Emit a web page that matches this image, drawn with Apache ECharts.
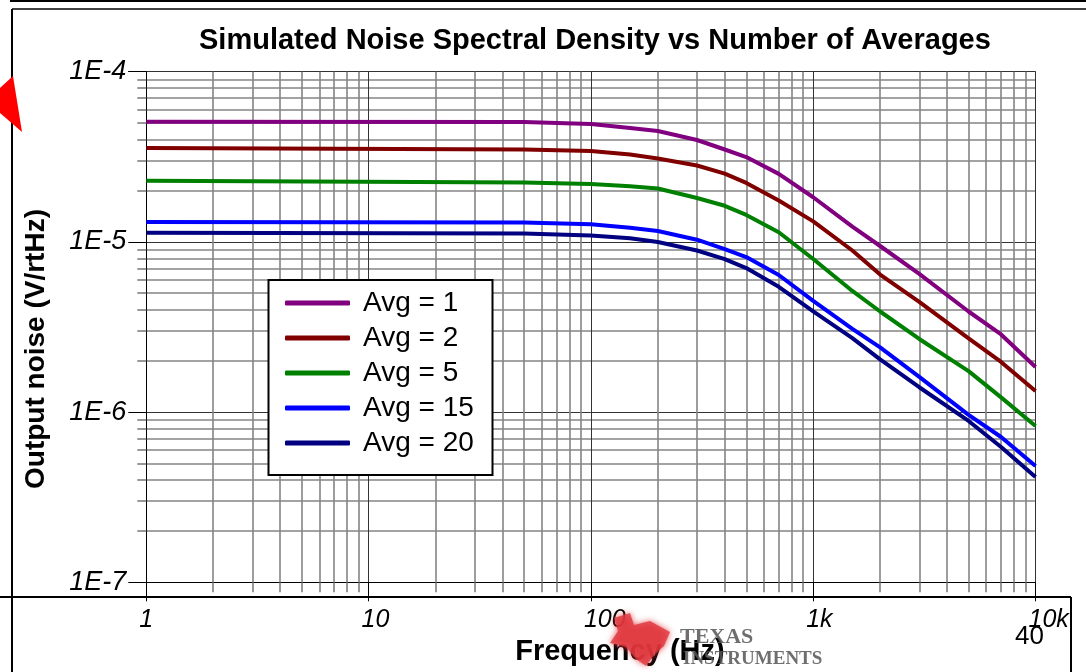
<!DOCTYPE html>
<html>
<head>
<meta charset="utf-8">
<script src="https://cdn.jsdelivr.net/npm/echarts@6/dist/echarts.min.js"></script>
<style>
  html, body { margin: 0; padding: 0; background: #fff; }
  #chart { width: 1086px; height: 672px; }
</style>
</head>
<body>
<div id="chart"></div>
<script>
// frequency points (Hz)
var freqHz = [1, 50, 100, 150, 200, 300, 400, 500, 700, 1000, 1500, 2000, 3000, 5000, 7000, 10000];

// output noise (V/rtHz) per number of averages
var avg1  = [5.08e-5, 5.06e-5, 4.93e-5, 4.67e-5, 4.48e-5, 3.97e-5, 3.49e-5, 3.15e-5, 2.51e-5, 1.83e-5, 1.23e-5, 9.46e-6, 6.49e-6, 3.90e-6, 2.86e-6, 1.84e-6];
var avg2  = [3.56e-5, 3.49e-5, 3.42e-5, 3.26e-5, 3.09e-5, 2.81e-5, 2.52e-5, 2.22e-5, 1.75e-5, 1.32e-5, 8.90e-6, 6.43e-6, 4.44e-6, 2.71e-6, 1.97e-6, 1.33e-6];
var avg5  = [2.29e-5, 2.23e-5, 2.19e-5, 2.12e-5, 2.06e-5, 1.81e-5, 1.63e-5, 1.44e-5, 1.14e-5, 7.93e-6, 5.15e-6, 3.90e-6, 2.69e-6, 1.74e-6, 1.22e-6, 8.29e-7];
var avg15 = [1.31e-5, 1.30e-5, 1.27e-5, 1.21e-5, 1.16e-5, 1.03e-5, 9.08e-6, 8.15e-6, 6.39e-6, 4.50e-6, 3.08e-6, 2.40e-6, 1.61e-6, 9.64e-7, 7.14e-7, 4.82e-7];
var avg20 = [1.13e-5, 1.12e-5, 1.09e-5, 1.05e-5, 9.99e-6, 8.90e-6, 7.93e-6, 7.02e-6, 5.45e-6, 3.91e-6, 2.72e-6, 2.04e-6, 1.40e-6, 8.87e-7, 6.24e-7, 4.16e-7];

var seriesNames  = ['Avg = 1', 'Avg = 2', 'Avg = 5', 'Avg = 15', 'Avg = 20'];
var seriesColors = ['#800080', '#800000', '#008000', '#0000ff', '#000080'];

// tick labels, one per decade
var xTickLabels = ['1', '10', '100', '1k', '10k'];
var yTickLabels = ['1E-7', '1E-6', '1E-5', '1E-4'];

var allValues = [avg1, avg2, avg5, avg15, avg20];

function pairs(vals) {
  return freqHz.map(function (f, i) { return [f, vals[i]]; });
}

var FONT = '"Liberation Sans", Arial, sans-serif';

var myChart = echarts.init(document.getElementById('chart'));

var option = {
  backgroundColor: '#fff',
  animation: false,
  title: {
    text: 'Simulated Noise Spectral Density vs Number of Averages',
    left: 199,
    top: 26,
    padding: 0,
    textStyle: { fontFamily: FONT, fontSize: 29, fontWeight: 'bold', color: '#000' }
  },
  grid: { left: 146.3, right: 50.5, top: 71.7, bottom: 89.7 },
  legend: {
    orient: 'vertical',
    left: 285,
    top: 288,
    padding: 0,
    z: 5,
    icon: 'roundRect',
    itemWidth: 65,
    itemHeight: 5,
    itemGap: 5,
    data: seriesNames,
    textStyle: { fontFamily: FONT, fontSize: 28, color: '#000', lineHeight: 30, padding: [0, 0, 0, 8] }
  },
  xAxis: {
    type: 'log',
    logBase: 10,
    min: 1,
    max: 10000,
    name: 'Frequency (Hz)',
    nameLocation: 'middle',
    nameGap: 54,
    nameTextStyle: { fontFamily: FONT, fontSize: 29, fontWeight: 'bold', color: '#000', padding: [0, 0, 0, 58] },
    axisLine: { show: true, lineStyle: { color: '#000', width: 1 } },
    axisTick: { show: true, length: 19, lineStyle: { color: '#000' } },
    minorTick: { show: true, splitNumber: 9, length: 10, lineStyle: { color: '#777', width: 1.5 } },
    splitLine: { show: true, lineStyle: { color: '#333', width: 1 } },
    minorSplitLine: { show: true, lineStyle: { color: '#858585', width: 1.6 } },
    axisLabel: {
      margin: 25,
      align: 'left',
      padding: [0, 0, 0, -7],
      fontFamily: FONT, fontSize: 25, fontStyle: 'italic', color: '#000',
      formatter: function (v) { return xTickLabels[Math.round(Math.log10(v))]; }
    }
  },
  yAxis: {
    type: 'log',
    logBase: 10,
    min: 1e-7,
    max: 1e-4,
    name: 'Output noise (V/rtHz)',
    nameLocation: 'middle',
    nameGap: 96,
    nameTextStyle: { fontFamily: FONT, fontSize: 28, fontWeight: 'bold', color: '#000', padding: [0, 44, 0, 0] },
    axisLine: { show: true, lineStyle: { color: '#000', width: 1 } },
    axisTick: { show: true, length: 18, lineStyle: { color: '#000' } },
    minorTick: { show: true, splitNumber: 9, length: 9, lineStyle: { color: '#777', width: 1.5 } },
    splitLine: { show: true, lineStyle: { color: '#333', width: 1 } },
    minorSplitLine: { show: true, lineStyle: { color: '#858585', width: 1.6 } },
    axisLabel: {
      margin: 20,
      fontFamily: FONT, fontSize: 27, fontStyle: 'italic', color: '#000',
      formatter: function (v) { return yTickLabels[Math.round(Math.log10(v)) + 7]; }
    }
  },
  series: seriesNames.map(function (name, k) {
    return {
      name: name,
      type: 'line',
      showSymbol: false,
      color: seriesColors[k],
      lineStyle: { width: 4, color: seriesColors[k] },
      data: pairs(allValues[k])
    };
  }),
  graphic: [
    // legend frame
    { type: 'rect', z: 4, shape: { x: 268.5, y: 280, width: 224, height: 195 },
      style: { fill: '#fff', stroke: '#000', lineWidth: 2 } },
    // slide frame lines
    { type: 'line', z: 10, shape: { x1: 10, y1: 1, x2: 1086, y2: 1 }, style: { stroke: '#000', lineWidth: 2 } },
    { type: 'line', z: 10, shape: { x1: 12, y1: 9, x2: 1086, y2: 9 }, style: { stroke: '#000', lineWidth: 1.5 } },
    { type: 'line', z: 10, shape: { x1: 12, y1: 9, x2: 12, y2: 672 }, style: { stroke: '#000', lineWidth: 2 } },
    { type: 'line', z: 10, shape: { x1: 0, y1: 597, x2: 1071, y2: 597 }, style: { stroke: '#000', lineWidth: 2 } },
    { type: 'line', z: 10, shape: { x1: 1071, y1: 597, x2: 1071, y2: 672 }, style: { stroke: '#000', lineWidth: 2 } },
    // red pointer at the left edge
    { type: 'polygon', z: 10, shape: { points: [[0, 88], [13, 76], [22, 132], [0, 113]] }, style: { fill: '#ff0000' } },
    // page number
    { type: 'text', z: 10, left: 1015, top: 624, style: { text: '40', font: '26px ' + FONT, fill: '#000' } },
    // TI logo
    { type: 'polygon', z: 1, shape: { points: [[614, 618], [630, 613], [634, 625], [650, 621], [670, 632], [664, 646], [654, 655], [646, 666], [636, 659], [626, 647], [610, 643], [618, 631]] },
      style: { fill: '#e0363c', opacity: 0.8, shadowBlur: 6, shadowColor: '#e0363c' } },
    { type: 'text', z: 1, left: 680, top: 626, style: { text: 'TEXAS', font: 'bold 22px "Liberation Serif", serif', fill: '#555', opacity: 0.85 } },
    { type: 'text', z: 1, left: 683, top: 650, style: { text: 'INSTRUMENTS', font: 'bold 19px "Liberation Serif", serif', fill: '#555', opacity: 0.85 } }
  ]
};

myChart.setOption(option);
</script>
</body>
</html>
